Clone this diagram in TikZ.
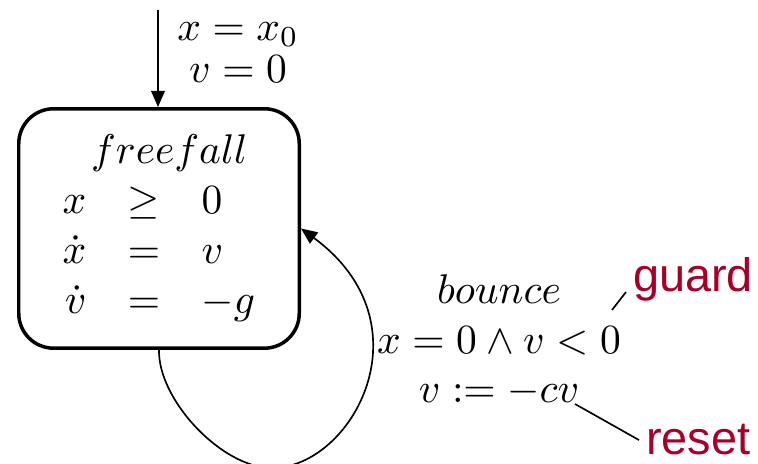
\documentclass[tikz,border=0pt]{standalone}
\usepackage{amsmath, amssymb}
\usepackage{fontspec}
\newfontfamily\notefont{Liberation Sans}
\usetikzlibrary{arrows.meta}
\definecolor{notered}{RGB}{166,0,40}

\begin{document}
\begin{tikzpicture}[x=0.241pt, y=0.241pt,
    mode/.style={draw, line width=0.84pt, rounded corners=8.4pt,
      minimum width=67.6pt, minimum height=57.7pt, inner sep=0pt},
    note/.style={text=notered, font=\notefont\fontsize{11.3}{13.5}\selectfont, inner sep=1.5pt},
    edge/.style={line width=0.4pt, -{Triangle[length=3.9pt,width=3.3pt]}}]
  \useasboundingbox (0,0) rectangle (758,464);

  % the location
  \node[mode] (freefall) at (159,235.5) {$\begin{array}{rcl}
      \multicolumn{3}{c}{\hspace{5pt}freefall}\\
      x & \geq & 0\\
      \dot{x} & = & v\\
      \dot{v} & = & -g
    \end{array}$};

  % initial condition
  \coordinate (initstart) at (158,454);
  \draw[edge] (initstart) -- (initstart |- freefall.north);
  \node[align=center] (init) at (238,411.5) {$x = x_0$\\[-1.9pt] $v = 0$};

  % the jump
  \coordinate (loopbottom) at (272,-4);
  \draw[edge] (freefall.south) .. controls (158,64) and (222,-4) .. (loopbottom)
    .. controls (352,-4) and (431,140) .. (freefall.east);
  \node[align=center] (bounce) at (499,123.5) {$bounce$\\ $x = 0 \wedge v < 0$\\ $v := -cv$};

  % annotations
  \node[note, anchor=base west] (guard) at (626,172) {guard};
  \node[note, anchor=base west] (reset) at (639,9) {reset};
  \coordinate (guardfrom) at (612,154);
  \coordinate (resetfrom) at (575,60);
  \draw[line width=0.4pt] (guardfrom) -- (guard.base west);
  \draw[line width=0.4pt] (resetfrom) -- (reset.west);
\end{tikzpicture}
\end{document}
